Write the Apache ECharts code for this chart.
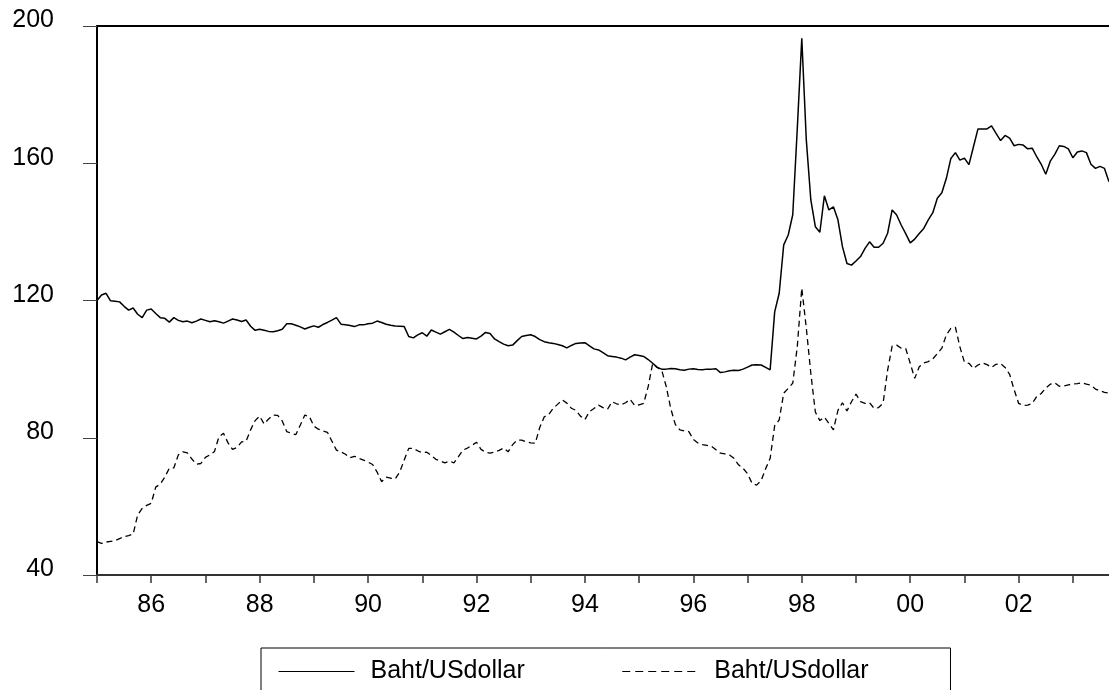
<!DOCTYPE html>
<html>
<head>
<meta charset="utf-8">
<script src="https://cdn.jsdelivr.net/npm/echarts@6/dist/echarts.min.js"></script>
<style>
  html, body { margin: 0; padding: 0; background: #fff; }
  #chart { width: 1109px; height: 690px; }
</style>
</head>
<body>
<div id="chart"></div>
<script>
// monthly observations, 1985M01 .. 2003M09
const startYear = 1985;
const monthCount = 225;

// solid line
const bahtSolid = [
  120.0, 121.6, 122.1, 119.9, 119.8, 119.6, 118.3, 117.2, 117.8, 116.0, 115.0, 117.2,
  117.5, 116.2, 115.0, 114.8, 113.7, 115.0, 114.2, 113.8, 114.0, 113.5, 114.0, 114.6,
  114.2, 113.8, 114.1, 113.8, 113.4, 114.0, 114.6, 114.3, 113.9, 114.3, 112.5, 111.3,
  111.6, 111.3, 111.0, 110.9, 111.2, 111.6, 113.2, 113.2, 112.8, 112.3, 111.7, 112.2,
  112.6, 112.2, 113.0, 113.6, 114.3, 115.0, 113.1, 112.9, 112.7, 112.4, 112.9, 112.9,
  113.2, 113.4, 114.0, 113.6, 113.1, 112.8, 112.6, 112.5, 112.4, 109.5, 109.1, 110.0,
  110.6, 109.6, 111.4, 110.8, 110.2, 110.9, 111.6, 110.8, 109.8, 108.9, 109.2, 109.0,
  108.8, 109.6, 110.7, 110.4, 108.8, 108.0, 107.3, 106.8, 107.0, 108.3, 109.5, 109.8,
  110.0, 109.5, 108.6, 108.0, 107.7, 107.5, 107.2, 106.8, 106.2, 106.9, 107.5, 107.6,
  107.7, 106.8, 105.9, 105.6, 104.8, 103.9, 103.7, 103.5, 103.2, 102.7, 103.5, 104.2,
  104.0, 103.7, 102.8, 101.7, 100.5, 100.0, 100.0, 100.2, 100.1, 99.8, 99.7, 100.0,
  100.1, 99.9, 99.8, 100.0, 100.0, 100.1, 99.0, 99.2, 99.5, 99.7, 99.6, 100.0,
  100.6, 101.2, 101.3, 101.2, 100.5, 99.8, 116.7, 122.1, 136.2, 139.1, 145.0, 170.0,
  196.4, 166.8, 149.3, 141.5, 139.9, 150.5, 146.4, 147.3, 143.5, 135.7, 130.8, 130.3,
  131.5, 132.8, 135.2, 137.1, 135.5, 135.5, 136.7, 139.6, 146.4, 144.9, 142.0, 139.5,
  136.8, 137.9, 139.5, 141.0, 143.5, 145.6, 149.8, 151.4, 155.6, 161.4, 163.1, 160.9,
  161.5, 159.6, 164.8, 170.0, 170.0, 170.0, 170.9, 168.7, 166.6, 168.1, 167.3, 165.1,
  165.5, 165.3, 164.2, 164.4, 161.9, 159.7, 156.8, 160.6, 162.6, 165.1, 164.9, 164.2,
  161.6, 163.3, 163.6, 163.1, 159.7, 158.5, 159.1, 158.5, 154.6
];

// dashed line
const bahtDashed = [
  49.7, 49.2, 49.6, 49.8, 50.0, 50.6, 51.2, 51.5, 51.9, 57.5, 59.4, 60.3,
  60.9, 65.6, 66.5, 68.5, 71.1, 71.2, 75.0, 75.9, 75.6, 73.8, 72.3, 72.5,
  74.3, 75.0, 76.0, 80.3, 81.3, 78.5, 76.6, 77.2, 78.8, 79.0, 82.3, 85.0,
  86.3, 84.0, 85.5, 86.6, 86.5, 84.9, 81.8, 81.3, 80.9, 83.7, 86.6, 86.2,
  83.4, 82.5, 82.0, 81.6, 79.0, 76.4, 75.9, 75.2, 74.2, 74.6, 74.0, 73.5,
  72.9, 72.2, 70.0, 67.2, 68.5, 68.2, 68.0, 70.0, 73.5, 76.9, 76.9, 76.2,
  75.6, 75.8, 74.8, 73.7, 73.2, 72.7, 73.2, 72.7, 74.5, 76.4, 77.0, 77.8,
  78.7, 76.6, 75.8, 75.5, 75.8, 76.3, 77.0, 75.9, 78.0, 79.3, 79.3, 78.8,
  78.5, 78.4, 83.0, 86.1, 86.8, 88.6, 89.8, 91.0, 90.1, 88.6, 88.0, 86.3,
  85.3, 87.6, 88.5, 89.5, 88.8, 88.3, 90.5, 89.9, 89.6, 90.2, 91.2, 89.4,
  89.6, 90.0, 94.9, 101.7, 100.5, 99.7, 94.9, 88.5, 83.9, 82.3, 82.0, 81.8,
  79.5, 78.5, 78.0, 77.8, 77.5, 76.5, 75.5, 75.3, 75.0, 74.0, 72.1, 71.1,
  69.5, 66.7, 66.2, 67.5, 71.0, 74.0, 83.5, 85.2, 93.0, 94.4, 95.9, 106.5,
  123.6, 112.0, 98.8, 87.5, 85.0, 86.0, 84.2, 82.3, 88.0, 90.2, 87.8, 90.5,
  92.7, 90.5, 90.0, 90.2, 88.6, 88.8, 90.1, 99.7, 106.7, 107.0, 106.1, 106.0,
  101.7, 97.3, 100.7, 101.8, 102.2, 103.0, 104.5, 106.1, 110.0, 111.9, 112.2, 106.5,
  102.0, 101.7, 100.2, 101.2, 101.8, 101.3, 100.5, 101.4, 101.6, 100.5, 98.5, 94.0,
  90.0, 89.4, 89.5, 90.0, 92.0, 92.9, 94.5, 95.6, 96.0, 95.0, 95.1, 95.4,
  95.7, 95.8, 96.0, 95.6, 95.3, 94.2, 93.7, 93.2, 93.0
];

const yTicks = [40, 80, 120, 160, 200];

const months = [];
for (let i = 0; i < monthCount; i++) {
  const y = startYear + Math.floor(i / 12);
  const m = (i % 12) + 1;
  months.push(y + 'M' + (m < 10 ? '0' + m : m));
}

const FONT = "'Liberation Sans', Arial, sans-serif";

const chart = echarts.init(document.getElementById('chart'), null, {renderer: 'canvas'});

chart.setOption({
  animation: false,
  backgroundColor: '#fff',
  grid: {left: 97, right: 0, top: 26, bottom: 115},
  legend: {
    left: 261,
    top: 648,
    orient: 'horizontal',
    itemWidth: 76,
    itemHeight: 25,
    itemGap: 97,
    padding: [11, 82, 40, 17],
    borderColor: '#000',
    borderWidth: 1,
    formatter: (name) => name.trim(),
    itemStyle: {opacity: 0},
    textStyle: {fontFamily: FONT, fontSize: 25, color: '#000', padding: [0, 0, 0, 11]},
    data: [
      {name: 'Baht/USdollar', itemStyle: {opacity: 0}, lineStyle: {width: 1, type: 'solid', color: '#000'}},
      {name: 'Baht/USdollar ', itemStyle: {opacity: 0}, lineStyle: {width: 1, type: [8, 5], color: '#000'}}
    ]
  },
  xAxis: [
    {
      type: 'category',
      data: months,
      boundaryGap: false,
      axisLine: {show: true, onZero: false, lineStyle: {color: '#333', width: 2}},
      axisTick: {
        show: true,
        length: 8,
        interval: (index) => index % 12 === 0,
        lineStyle: {color: '#333', width: 1.5}
      },
      axisLabel: {
        interval: (index) => index % 24 === 12,
        margin: 18,
        fontFamily: FONT,
        fontSize: 25,
        color: '#000',
        formatter: (v) => v.slice(2, 4)
      },
      splitLine: {show: false}
    },
    {
      type: 'category',
      data: months,
      boundaryGap: false,
      position: 'top',
      axisLine: {show: true, onZero: false, lineStyle: {color: '#000', width: 2}},
      axisTick: {show: false},
      axisLabel: {show: false},
      splitLine: {show: false}
    }
  ],
  yAxis: {
    type: 'value',
    min: yTicks[0],
    max: yTicks[yTicks.length - 1],
    interval: 40,
    axisLine: {show: true, onZero: false, lineStyle: {color: '#000', width: 2}},
    axisTick: {show: true, length: 14, lineStyle: {color: '#444', width: 1}},
    axisLabel: {
      margin: 43,
      fontFamily: FONT,
      fontSize: 25,
      color: '#000',
      verticalAlign: 'bottom',
      lineHeight: 11
    },
    splitLine: {show: false}
  },
  series: [
    {
      name: 'Baht/USdollar',
      type: 'line',
      data: bahtSolid,
      symbol: 'none',
      lineStyle: {color: '#000', width: 1.5, type: 'solid'},
      itemStyle: {color: '#000'}
    },
    {
      name: 'Baht/USdollar ',
      type: 'line',
      data: bahtDashed,
      symbol: 'none',
      lineStyle: {color: '#000', width: 1.3, type: [6, 4]},
      itemStyle: {color: '#000'}
    }
  ]
});
</script>
</body>
</html>
